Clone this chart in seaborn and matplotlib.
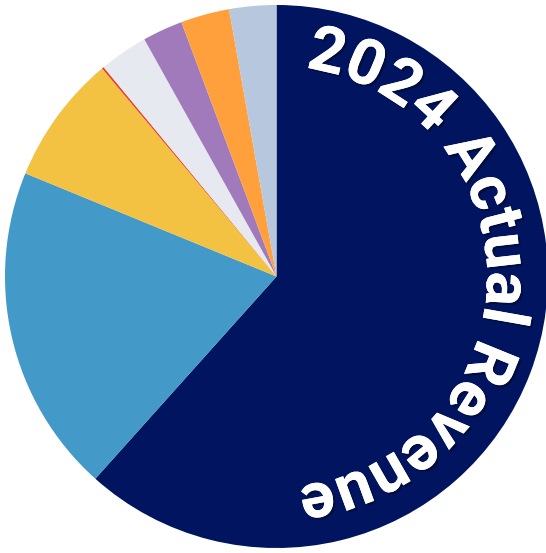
import numpy as np
import matplotlib
matplotlib.use("Agg")
import matplotlib.pyplot as plt
import matplotlib.patheffects as pe
from matplotlib.font_manager import FontProperties
import seaborn as sns

# revenue shares (percent), clockwise from 12 o'clock
segments = ["Main", "Second", "Third", "Fourth", "Fifth", "Sixth", "Seventh", "Eighth"]
shares = [61.7, 19.6, 7.7, 0.12, 2.9, 2.4, 2.9, 2.8]
colors = ["#00145F", "#4399C8", "#F4C242", "#E8412B", "#E6E9EF", "#A07ABA", "#FFA03D", "#B6C7DE"]
title = "2024 Actual Revenue"

sns.set_style("white")

fig = plt.figure(figsize=(5.46, 5.53), dpi=100)
ax = fig.add_axes([5 / 546, 5 / 553, 543 / 546, 543 / 553])
ax.pie(shares, colors=colors, startangle=90, counterclock=False,
       wedgeprops=dict(linewidth=0), radius=1)
ax.set_xlim(-1, 1)
ax.set_ylim(-1, 1)
ax.set_aspect("equal")
ax.axis("off")

# curved title along the navy wedge
prop = FontProperties(family="Roboto", weight="bold", size=46)
renderer = fig.canvas.get_renderer()
def tw(s):
    w, h, d = renderer.get_text_width_height_descent(s, prop, ismath=False)
    return w

r = 0.775
px_per_unit = 543 / 2
total = tw(title)
arc_total = total / (r * px_per_unit)
mid = np.deg2rad(91)
start = mid - arc_total / 2
for i, ch in enumerate(title):
    if ch == " ":
        continue
    right = tw(title[:i + 1])
    center = right - tw(ch) / 2
    th = start + center / (r * px_per_unit)
    x, y = r * np.sin(th), r * np.cos(th)
    ax.text(x, y, ch, fontproperties=prop, color="white",
            rotation=-np.rad2deg(th), rotation_mode="anchor",
            ha="center", va="baseline",
            path_effects=[pe.withSimplePatchShadow(offset=(1.5, -1.5), shadow_rgbFace="black", alpha=0.35),
                          pe.Normal()])

fig.savefig("out.png", dpi=100)
